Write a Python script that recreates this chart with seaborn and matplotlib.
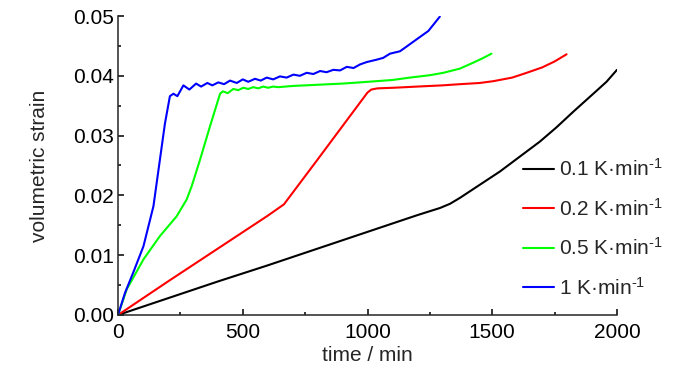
import numpy as np
import pandas as pd
import matplotlib
matplotlib.use("Agg")
import matplotlib.pyplot as plt
from matplotlib.ticker import MultipleLocator, AutoMinorLocator
import seaborn as sns

# heating rates, K/min
rate_labels = ["0.1 K·min$^{\\text{-1}}$", "0.2 K·min$^{\\text{-1}}$",
               "0.5 K·min$^{\\text{-1}}$", "1 K·min$^{\\text{-1}}$"]
rate_colors = ["#000000", "#ff0000", "#00ff00", "#0000ff"]

# 0.1 K/min
t_01 = [0, 200, 400, 600, 800, 1000, 1200, 1291, 1331, 1371, 1411, 1451, 1531, 1611, 1691,
        1758, 1825, 1905, 1958, 2000]
s_01 = [0, 0.0028, 0.0056, 0.0083, 0.0111, 0.0139, 0.0167, 0.0179, 0.0186, 0.0196, 0.0207,
        0.0218, 0.0240, 0.0265, 0.0290, 0.0314, 0.0340, 0.0370, 0.0390, 0.0410]

# 0.2 K/min
t_02 = [0, 200, 400, 600, 665, 800, 1000, 1015, 1040, 1104, 1200, 1300, 1371, 1450, 1504,
        1580, 1638, 1700, 1750, 1798]
s_02 = [0, 0.0056, 0.0111, 0.0166, 0.0185, 0.0260, 0.0372, 0.0377, 0.0379, 0.0380, 0.0382,
        0.0384, 0.0386, 0.0388, 0.0391, 0.0397, 0.0405, 0.0414, 0.0424, 0.0436]

# 0.5 K/min
t_05 = [0, 35, 102, 168, 235, 275, 295, 329, 369, 409, 420, 440, 462, 482, 502, 522, 542,
        562, 582, 602, 622, 642, 700, 800, 900, 970, 1100, 1170, 1250, 1304, 1370, 1424,
        1460, 1497]
s_05 = [0, 0.0043, 0.0093, 0.0132, 0.0165, 0.0193, 0.0215, 0.0260, 0.0316, 0.0370, 0.0374,
        0.0371, 0.0378, 0.0376, 0.0380, 0.0378, 0.0381, 0.0379, 0.0382, 0.0380, 0.0382,
        0.0381, 0.0383, 0.0385, 0.0387, 0.0389, 0.0393, 0.0397, 0.0401, 0.0405, 0.0412,
        0.0422, 0.0429, 0.0437]

# 1 K/min
t_1 = [0, 28, 61, 102, 142, 168, 188, 208, 222, 238, 262, 286, 313, 333, 358, 378, 402,
       425, 449, 476, 500, 522, 549, 572, 596, 622, 649, 676, 703, 729, 756, 783, 810, 836,
       863, 890, 917, 944, 970, 997, 1037, 1063, 1090, 1130, 1157, 1197, 1244, 1290]
s_1 = [0, 0.0037, 0.0071, 0.0115, 0.0182, 0.0260, 0.0320, 0.0366, 0.0370, 0.0366, 0.0384,
       0.0377, 0.0387, 0.0382, 0.0388, 0.0384, 0.0389, 0.0386, 0.0392, 0.0388, 0.0394,
       0.0390, 0.0395, 0.0392, 0.0397, 0.0394, 0.0399, 0.0397, 0.0402, 0.0400, 0.0405,
       0.0403, 0.0408, 0.0406, 0.0410, 0.0409, 0.0415, 0.0413, 0.0419, 0.0423, 0.0427,
       0.0430, 0.0437, 0.0441, 0.0449, 0.0461, 0.0475, 0.0499]

frames = []
for lab, t, s in zip(rate_labels, [t_01, t_02, t_05, t_1], [s_01, s_02, s_05, s_1]):
    frames.append(pd.DataFrame({"time": t, "strain": s, "rate": lab}))
df = pd.concat(frames, ignore_index=True)

sns.set_theme(style="ticks")
plt.rcParams['font.family'] = ['Liberation Sans', 'DejaVu Sans']
plt.rcParams['mathtext.fontset'] = 'custom'
plt.rcParams['mathtext.rm'] = 'Liberation Sans'
plt.rcParams['mathtext.default'] = 'regular'

fig = plt.figure(figsize=(7, 3.74), dpi=100)
ax = fig.add_axes([0.1686, 0.1578, 0.7128, 0.7994])

sns.lineplot(data=df, x="time", y="strain", hue="rate", palette=rate_colors,
             estimator=None, sort=False, linewidth=1.5, ax=ax)

ax.set_xlim(0, 2000)
ax.set_ylim(0, 0.05)
ax.xaxis.set_major_locator(MultipleLocator(500))
ax.xaxis.set_minor_locator(AutoMinorLocator(2))
ax.yaxis.set_major_locator(MultipleLocator(0.01))
ax.yaxis.set_minor_locator(AutoMinorLocator(2))
ax.yaxis.set_major_formatter(matplotlib.ticker.FormatStrFormatter("%.2f"))

sns.despine(ax=ax)
for sp in ["left", "bottom"]:
    ax.spines[sp].set_linewidth(1.1)
ax.tick_params(which="both", direction="in", width=1.1, labelsize=15, colors="black")
ax.tick_params(which="major", length=4.5)
ax.tick_params(which="minor", length=2.5)
ax.tick_params(axis="x", pad=6)
ax.tick_params(axis="y", pad=3)

ax.set_xlabel("time / min", fontsize=15)
ax.set_ylabel("volumetric strain", fontsize=15)
ax.yaxis.set_label_coords(-0.138, 0.5)
ax.xaxis.set_label_coords(0.5, -0.105)

ax.legend(frameon=False, loc="upper left", bbox_to_anchor=(0.811, 0.525),
          borderaxespad=0, borderpad=0, handlelength=1.5, handletextpad=0.25,
          labelspacing=0.85, fontsize=15)

fig.savefig("out.png", dpi=100)
